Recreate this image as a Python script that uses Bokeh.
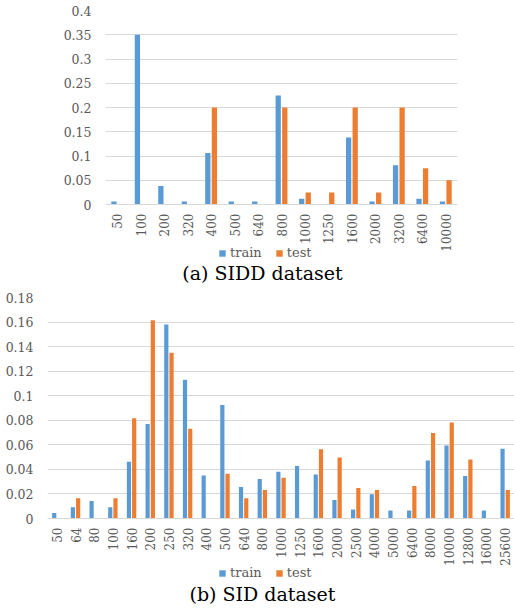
import math
from bokeh.plotting import figure
from bokeh.models import (ColumnDataSource, FactorRange, Range1d, FixedTicker,
                          Legend, LegendItem, Label)
from bokeh.transform import dodge
from bokeh.layouts import column
from bokeh.embed import file_html
from bokeh.resources import INLINE

# ---------------- data ----------------
sidd_iso = ["50", "100", "200", "320", "400", "500", "640", "800", "1000",
            "1250", "1600", "2000", "3200", "6400", "10000"]
sidd_train = [0.006, 0.35, 0.038, 0.006, 0.106, 0.006, 0.006, 0.225, 0.012,
              0.0, 0.138, 0.006, 0.081, 0.012, 0.006]
sidd_test = [0.0, 0.0, 0.0, 0.0, 0.2, 0.0, 0.0, 0.2, 0.025,
             0.025, 0.2, 0.025, 0.2, 0.075, 0.05]
sidd_yticks = [0, 0.05, 0.1, 0.15, 0.2, 0.25, 0.3, 0.35, 0.4]
sidd_ylabels = ["0", "0.05", "0.1", "0.15", "0.2", "0.25", "0.3", "0.35", "0.4"]

sid_iso = ["50", "64", "80", "100", "160", "200", "250", "320", "400", "500",
           "640", "800", "1000", "1250", "1600", "2000", "2500", "4000", "5000",
           "6400", "8000", "10000", "12800", "16000", "25600"]
sid_train = [0.0045, 0.0092, 0.0143, 0.0092, 0.0462, 0.077, 0.158, 0.113, 0.035,
             0.0924, 0.0257, 0.0322, 0.0381, 0.0427, 0.0359, 0.0151, 0.0073,
             0.0197, 0.0065, 0.0065, 0.0473, 0.0595, 0.0346, 0.0065, 0.0568]
sid_test = [0.0, 0.0165, 0.0, 0.0165, 0.0816, 0.1614, 0.1349, 0.0732, 0.0,
            0.0365, 0.0165, 0.0232, 0.0332, 0.0, 0.0565, 0.0497, 0.0249,
            0.0232, 0.0, 0.0265, 0.0697, 0.0781, 0.0481, 0.0, 0.0232]
sid_yticks = [0, 0.02, 0.04, 0.06, 0.08, 0.1, 0.12, 0.14, 0.16, 0.18]
sid_ylabels = ["0", "0.02", "0.04", "0.06", "0.08", "0.1", "0.12", "0.14",
               "0.16", "0.18"]

series_names = ["train", "test"]
captions = ["(a) SIDD dataset", "(b) SID dataset"]

BLUE = "#5b9bd5"
ORANGE = "#ed7d31"
GRID = "#d9d9d9"
TXT = "#595959"
FONT = "DejaVu Serif"


def make_chart(cats, train, test, yticks, ylabels, caption,
               width, height, bl, br, bt, plot_h, below_h, leg_xy, cap_xy):
    """plot_h: pixel height of the bar area (0..max tick);
    below_h: pixels under the zero line that hold labels, legend, caption."""
    src = ColumnDataSource(dict(x=cats, train=train, test=test))
    ymax = yticks[-1]
    ymin = -ymax * below_h / plot_h          # room under the zero line
    p = figure(x_range=FactorRange(factors=cats, range_padding=0),
               y_range=Range1d(ymin, ymax),
               width=width, height=height, min_border=0,
               min_border_left=bl, min_border_right=br,
               min_border_top=bt, min_border_bottom=0,
               output_backend="svg", toolbar_location=None)
    p.outline_line_color = None

    r1 = p.vbar(x=dodge("x", -0.14, range=p.x_range), top="train", width=0.225,
                source=src, fill_color=BLUE, line_color=None)
    r2 = p.vbar(x=dodge("x", 0.14, range=p.x_range), top="test", width=0.225,
                source=src, fill_color=ORANGE, line_color=None)

    p.xgrid.grid_line_color = None
    p.ygrid.ticker = FixedTicker(ticks=yticks)
    p.ygrid.grid_line_color = GRID

    p.yaxis.ticker = FixedTicker(ticks=yticks)
    p.yaxis.major_label_overrides = {t: l for t, l in zip(yticks, ylabels)}
    p.yaxis.axis_line_color = None
    p.yaxis.major_tick_line_color = None
    p.yaxis.minor_tick_line_color = None
    p.yaxis.major_tick_out = 0
    p.yaxis.major_tick_in = 0
    p.yaxis.major_label_standoff = 14
    p.yaxis.major_label_text_font = FONT
    p.yaxis.major_label_text_font_size = "12.5px"
    p.yaxis.major_label_text_color = TXT

    p.xaxis.fixed_location = 0
    p.xaxis.axis_line_color = GRID
    p.xaxis.major_tick_line_color = None
    p.xaxis.minor_tick_line_color = None
    p.xaxis.major_tick_out = 0
    p.xaxis.major_tick_in = 0
    p.xaxis.major_label_orientation = math.pi / 2
    p.xaxis.major_label_standoff = 9
    p.xaxis.major_label_text_font = FONT
    p.xaxis.major_label_text_font_size = "12px"
    p.xaxis.major_label_text_color = TXT

    legend = Legend(items=[LegendItem(label=series_names[0], renderers=[r1]),
                           LegendItem(label=series_names[1], renderers=[r2])],
                    orientation="horizontal", location=leg_xy)
    legend.glyph_width = 8
    legend.glyph_height = 8
    legend.label_height = 10
    legend.label_standoff = 4
    legend.spacing = 13
    legend.padding = 0
    legend.margin = 0
    legend.border_line_color = None
    legend.background_fill_alpha = 0
    legend.label_text_font = FONT
    legend.label_text_font_size = "13px"
    legend.label_text_color = TXT
    p.add_layout(legend)

    cap = Label(x=cap_xy[0], y=cap_xy[1], x_units="screen", y_units="screen",
                text=caption, text_align="center", text_baseline="middle",
                text_font=FONT, text_font_size="19px", text_color="black")
    p.add_layout(cap)
    return p


p1 = make_chart(sidd_iso, sidd_train, sidd_test, sidd_yticks, sidd_ylabels,
                captions[0], 514, 288, 105, 57, 10, 194, 84, (113, 28), (157, 16))
p2 = make_chart(sid_iso, sid_train, sid_test, sid_yticks, sid_ylabels,
                captions[1], 514, 322, 47, 0, 9, 221, 92, (171, 30), (215, 17))

layout = column(column(p1), column(p2), spacing=0)
open("out.html", "w").write(file_html(layout, INLINE))
